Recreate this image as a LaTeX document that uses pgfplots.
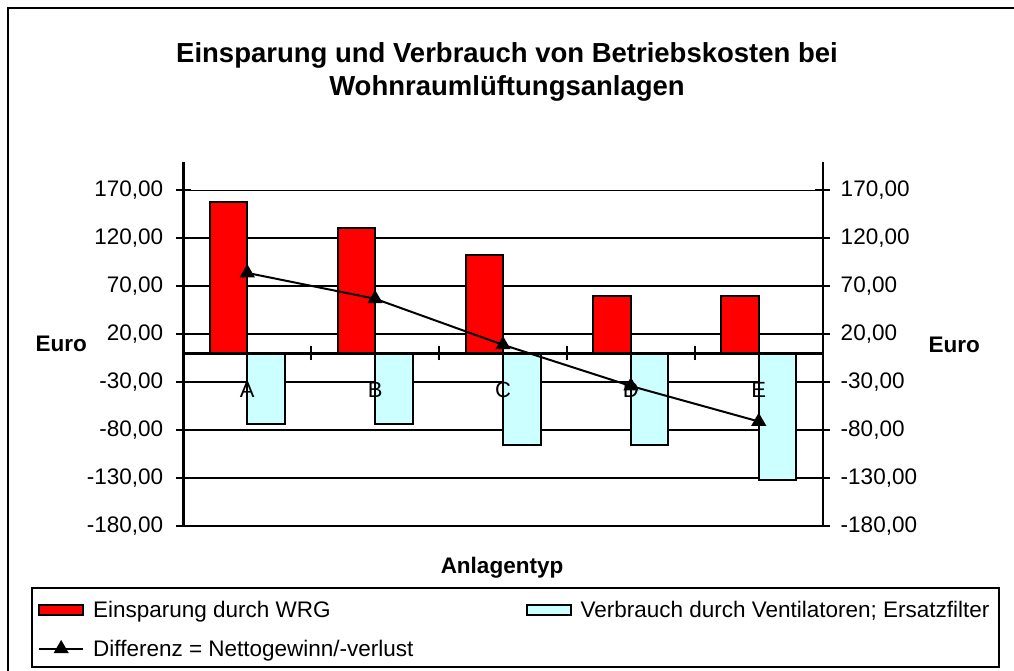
\documentclass[border=0pt]{standalone}
\usepackage{pgfplots}
\usepackage{pgfplotstable}
\pgfplotsset{compat=1.18}
\usepackage{fontspec}
\setmainfont{Liberation Sans}

\newcommand\tickfont{\fontsize{22.5}{27}\selectfont}
\newcommand\catfont{\fontsize{22}{26}\selectfont}
\newcommand\labfont{\fontsize{22.5}{27}\selectfont\bfseries}
\newcommand\titfont{\fontsize{27.5}{33}\selectfont\bfseries}

\definecolor{wrgred}{RGB}{255,0,0}
\definecolor{ventcyan}{RGB}{204,255,255}

% Betriebskosten je Anlagentyp (Euro)
\pgfplotstableread{
pos wrg  vent diff
1   158  -74   84
2   131  -74   57
3   103  -95    9
4    60  -95  -34
5    60 -132  -71
}\kosten

\pgfplotsset{chartaxis/.style={
  scale only axis, width=639.4pt, height=364.3pt,
  at={(183.3pt,145pt)}, anchor=south west,
  xmin=0.5, xmax=5.5, ymin=-180, ymax=200,
  ytick={-180,-130,...,170},
  tick align=center, major tick length=15pt, minor tick length=14pt,
  axis line style={line width=2.4pt, black},
  tick style={line width=2pt, black},
  yticklabel={\pgfmathprintnumber[fixed,fixed zerofill,precision=2,use comma,assume math mode=true]{\tick}},
  yticklabel style={font=\tickfont},
}}

\begin{document}
\begin{tikzpicture}[x=1pt,y=1pt]
\useasboundingbox (0,0) rectangle (1014,671);
\fill[white] (0,0) rectangle (1014,671);
\draw[line width=2pt] (8,0) -- (8,663) -- (1014,663);

\node[font=\titfont, anchor=base] at (507,608) {Einsparung und Verbrauch von Betriebskosten bei};
\node[font=\titfont, anchor=base] at (507,575) {Wohnraumlüftungsanlagen};

% bars, difference line, left scale and legend
\begin{axis}[chartaxis,
  axis y line*=left, axis x line*=middle,
  yticklabel style={xshift=-9pt},
  ymajorgrids, grid style={black, line width=1.9pt},
  xtick=\empty,
  legend columns=2,
  legend cell align=left,
  legend style={draw=none, fill=none, font=\tickfont,
    at={(-0.2320,-0.1945)}, anchor=north west,
    /tikz/every odd column/.append style={column sep=7pt},
    /tikz/every even column/.append style={column sep=110pt},
    row sep=17pt},
]
\addplot[ybar, bar width=37.5pt, bar shift=-18.75pt, fill=wrgred, draw=black, line width=2pt,
  legend image code/.code={\draw[fill=wrgred, draw=black, line width=2pt] (0pt,-5pt) rectangle (44pt,5pt);}]
  table[x=pos, y=wrg]{\kosten};
\addlegendentry{Einsparung durch WRG}
\addplot[ybar, bar width=37.5pt, bar shift=18.75pt, fill=ventcyan, draw=black, line width=2pt,
  legend image code/.code={\draw[fill=ventcyan, draw=black, line width=2pt] (0pt,-5pt) rectangle (44pt,5pt);}]
  table[x=pos, y=vent]{\kosten};
\addlegendentry{Verbrauch durch Ventilatoren; Ersatzfilter}
\addplot[black, line width=2pt, mark=triangle*, mark size=6.8pt,
  legend image code/.code={\draw[black, line width=2pt, mark=triangle*, mark size=6.8pt, mark repeat=2, mark phase=2] plot coordinates {(0pt,0pt) (22pt,0pt) (44pt,0pt)};}]
  table[x=pos, y=diff]{\kosten};
\addlegendentry{Differenz = Nettogewinn/-verlust}
\end{axis}

% right scale, category axis at zero and its labels
\begin{axis}[chartaxis,
  axis y line*=right, axis x line*=middle,
  yticklabel style={xshift=7pt},
  xtick={1,...,5}, xticklabels={A,B,C,D,E},
  major x tick style={draw=none},
  minor xtick={1.5,2.5,3.5,4.5},
  xticklabel style={font=\catfont, yshift=-18pt},
]
\end{axis}

\node[font=\labfont, anchor=base west] at (32,319) {Euro};
\node[font=\labfont, anchor=base west] at (925,318.5) {Euro};
\node[font=\labfont, anchor=base] at (502,97) {Anlagentyp};

\draw[line width=1.8pt] (32,83) rectangle (999,4);
\end{tikzpicture}
\end{document}
